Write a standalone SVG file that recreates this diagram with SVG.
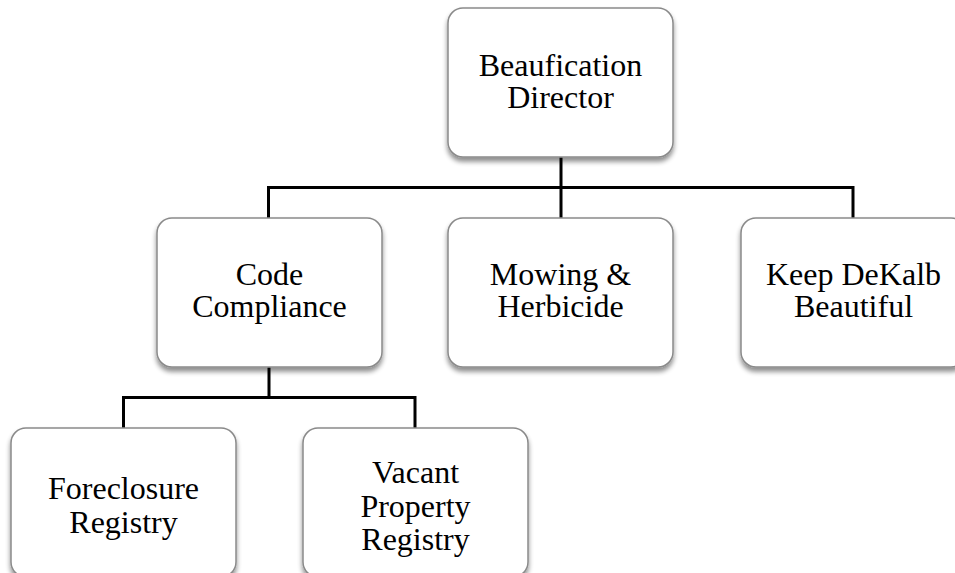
<svg xmlns="http://www.w3.org/2000/svg" width="955" height="573" viewBox="0 0 955 573">
  <defs>
    <filter id="shadow" x="-10%" y="-10%" width="120%" height="125%">
      <feGaussianBlur in="SourceAlpha" stdDeviation="2.5"/>
      <feOffset dx="0" dy="4" result="b"/>
      <feComponentTransfer><feFuncA type="linear" slope="0.45"/></feComponentTransfer>
      <feMerge><feMergeNode/><feMergeNode in="SourceGraphic"/></feMerge>
    </filter>
  </defs>
  <style>
    .box { fill: #ffffff; stroke: #8a8a8a; stroke-width: 1.5; filter: url(#shadow); }
    .label { font-family: "Liberation Serif", "Times New Roman", serif; font-size: 32px; fill: #000000; text-anchor: middle; }
    .wire { fill: none; stroke: #000000; stroke-width: 3; }
  </style>
  <rect width="955" height="573" fill="#ffffff"/>

  <g id="connectors">
    <path class="wire" d="M561 157 V187.5 M268.5 218 V187.5 H853 V218 M561 187.5 V218"/>
    <path class="wire" d="M269 367 V397.5 M123.5 428 V397.5 H415 V428"/>
  </g>

  <g id="director">
    <rect class="box" x="448" y="8" width="225" height="149" rx="15"/>
    <text class="label" x="560.5" y="76">Beaufication</text>
    <text class="label" x="560.5" y="108">Director</text>
  </g>

  <g id="code-compliance">
    <rect class="box" x="157" y="218" width="225" height="149" rx="15"/>
    <text class="label" x="269.5" y="285">Code</text>
    <text class="label" x="269.5" y="317">Compliance</text>
  </g>

  <g id="mowing">
    <rect class="box" x="448" y="218" width="225" height="149" rx="15"/>
    <text class="label" x="560.5" y="285">Mowing &amp;</text>
    <text class="label" x="560.5" y="317">Herbicide</text>
  </g>

  <g id="keep-dekalb">
    <rect class="box" x="741" y="218" width="225" height="149" rx="15"/>
    <text class="label" x="853.5" y="285">Keep DeKalb</text>
    <text class="label" x="853.5" y="317">Beautiful</text>
  </g>

  <g id="foreclosure">
    <rect class="box" x="11" y="428" width="225" height="149" rx="15"/>
    <text class="label" x="123.5" y="499">Foreclosure</text>
    <text class="label" x="123.5" y="533">Registry</text>
  </g>

  <g id="vacant-property">
    <rect class="box" x="303" y="428" width="225" height="149" rx="15"/>
    <text class="label" x="415.5" y="483">Vacant</text>
    <text class="label" x="415.5" y="517">Property</text>
    <text class="label" x="415.5" y="550">Registry</text>
  </g>
</svg>
